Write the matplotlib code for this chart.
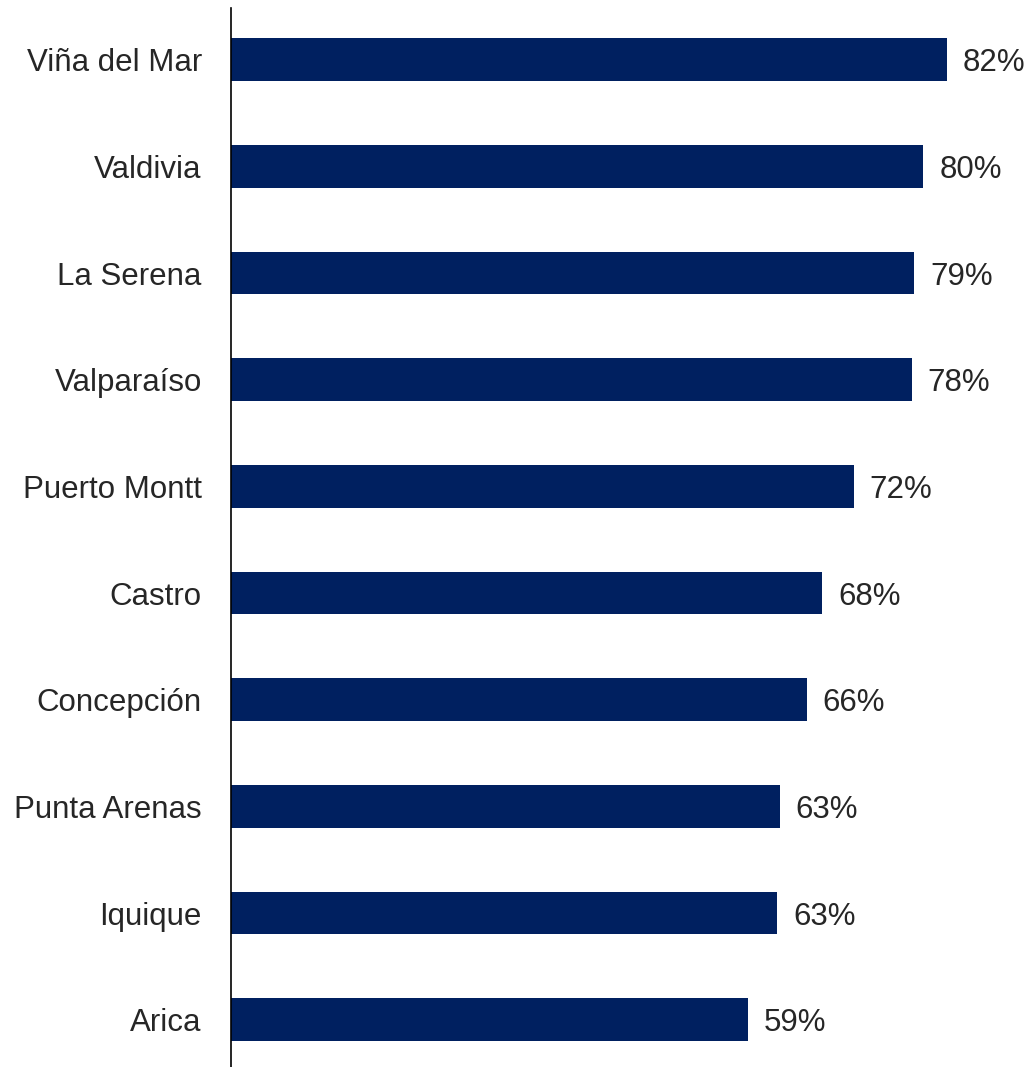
import matplotlib.pyplot as plt

plt.rcParams['font.family'] = ['Liberation Sans', 'DejaVu Sans']

cities = ['Viña del Mar', 'Valdivia', 'La Serena', 'Valparaíso', 'Puerto Montt',
          'Castro', 'Concepción', 'Punta Arenas', 'Iquique', 'Arica']
values = [82.3, 79.6, 78.6, 78.3, 71.6, 68.0, 66.2, 63.1, 62.8, 59.4]
labels = [f"{v:.0f}%" for v in values]

W, H = 1031, 1067
fig = plt.figure(figsize=(W / 100, H / 100), dpi=100)
ax = fig.add_axes([231 / W, 0, 1 - 231 / W, 1 - 8 / H])

pos = list(range(len(cities)))
ax.barh(pos, values, height=0.4, color='#002060')

for p, v, lab in zip(pos, values, labels):
    ax.annotate(lab, (v, p), xytext=(11.5, 0), textcoords='offset points',
                va='center_baseline', ha='left', fontsize=22.5, color='#262626')

ax.set_xlim(0, 92)
ax.set_ylim(9.443, -0.485)
ax.set_yticks(pos)
ax.set_yticklabels(cities, fontsize=22.5, color='#262626', va='center_baseline')
ax.tick_params(axis='y', length=0, pad=21)
ax.set_xticks([])

for s in ['top', 'right', 'bottom']:
    ax.spines[s].set_visible(False)
ax.spines['left'].set_color('black')
ax.spines['left'].set_linewidth(1.2)

fig.savefig('out.png', dpi=100)
